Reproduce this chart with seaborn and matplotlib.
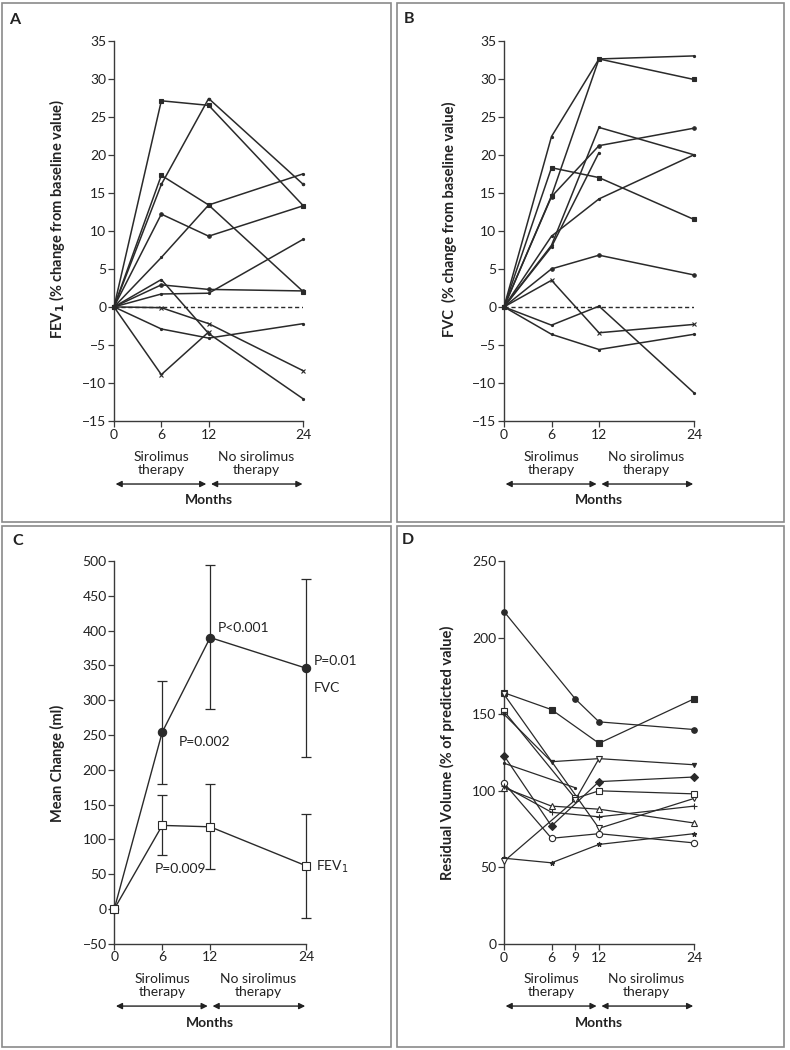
import numpy as np
import pandas as pd
import matplotlib
matplotlib.use("Agg")
import matplotlib.pyplot as plt
import matplotlib.transforms as mtrans
from matplotlib.patches import Rectangle
import seaborn as sns

sns.set_theme(style="ticks")
plt.rcParams['font.family'] = ['Lato', 'DejaVu Sans']

nan = np.nan
LC = '#2a2a2a'

# ---------------- Panel A: FEV1 % change ----------------
months_ab = [0, 6, 12, 24]
fev1_p1 = [0, 27.1, 26.5, 13.3]
fev1_p2 = [0, 16.1, 27.4, 16.1]
fev1_p3 = [0, 17.3, 13.4, 2.0]
fev1_p4 = [0, 6.5, 13.4, 17.5]
fev1_p5 = [0, 12.2, 9.3, 13.3]
fev1_p6 = [0, 2.9, 2.3, 2.1]
fev1_p7 = [0, 1.7, 1.8, 8.9]
fev1_p8 = [0, 3.6, -3.5, -12.1]
fev1_p9 = [0, -0.1, -2.2, -8.4]
fev1_p10 = [0, -2.9, -4.1, -2.2]
fev1_p11 = [0, -8.9, -3.3, nan]

# ---------------- Panel B: FVC % change ----------------
fvc_p1 = [0, 22.4, 32.6, 33.0]
fvc_p2 = [0, 14.6, 32.6, 29.9]
fvc_p3 = [0, 14.5, 21.2, 23.5]
fvc_p4 = [0, 18.3, 17.0, 11.5]
fvc_p5 = [0, 8.1, 23.6, 20.0]
fvc_p6 = [0, 7.9, 20.3, nan]
fvc_p7 = [0, 9.3, 14.2, 20.0]
fvc_p8 = [0, 5.0, 6.8, 4.2]
fvc_p9 = [0, 3.5, -3.4, -2.3]
fvc_p10 = [0, -2.4, 0.1, -11.3]
fvc_p11 = [0, -3.6, -5.6, -3.6]

# ---------------- Panel C: mean change (ml) ----------------
months_c = [0, 6, 12, 24]
fvc_mean = [0, 254, 390, 346]
fvc_lo = [nan, 180, 287, 218]
fvc_hi = [nan, 328, 494, 474]
fev1_mean = [0, 120, 118, 62]
fev1_lo = [nan, 77, 57, -13]
fev1_hi = [nan, 163, 179, 137]

# ---------------- Panel D: residual volume ----------------
months_d = [0, 6, 9, 12, 24]
rv_p1 = [217, nan, 160, 145, 140]
rv_p2 = [164, 153, nan, 131, 160]
rv_p3 = [163, nan, nan, 75.5, 95]
rv_p4 = [152, nan, 95, 100, 98]
rv_p5 = [150, 119, nan, 121, 117]
rv_p6 = [123, 77, nan, 106, 109]
rv_p7 = [118, nan, 102, nan, nan]
rv_p8 = [105, 69, nan, 72, 66]
rv_p9 = [102, 90, nan, 88, 79]
rv_p10 = [103, 86, nan, 83, 90]
rv_p11 = [56, 53, nan, 65, 72]
rv_p12 = [54, nan, 94, 121, nan]

W, H = 790, 1050
fig = plt.figure(figsize=(W / 100, H / 100), dpi=100)


def px_axes(left, right, top, bottom):
    return fig.add_axes([left / W, 1 - bottom / H, (right - left) / W, (bottom - top) / H])


def series(ax, x, y, marker, ms, mfc=LC, lw=1.1):
    df = pd.DataFrame({'x': x, 'y': y}).dropna()
    sns.lineplot(data=df, x='x', y='y', ax=ax, color=LC, lw=lw, marker=marker,
                 markersize=ms, markerfacecolor=mfc, markeredgecolor=LC,
                 markeredgewidth=0.8, clip_on=False, estimator=None, sort=False,
                 zorder=3)


def style(ax, ylim, yticks, xticks, ylabel, labx, laby=0.5):
    ax.set_xlim(0, 24)
    ax.set_ylim(*ylim)
    ax.set_yticks(yticks)
    ax.set_xticks(xticks)
    sns.despine(ax=ax)
    for s in ['left', 'bottom']:
        ax.spines[s].set_color('#3a3a3a')
        ax.spines[s].set_linewidth(1.0)
    ax.tick_params(direction='out', length=4, width=0.9, colors='#3a3a3a',
                   labelsize=10, labelcolor='#222222', pad=1.5)
    ax.set_xlabel('')
    ax.set_ylabel(ylabel, fontsize=10.5, fontweight='bold', color='#222222')
    ax.yaxis.set_label_coords(labx, laby)


def bottom_labels(ax, y_text, y_arrow, y_months):
    tr = mtrans.blended_transform_factory(ax.transData, ax.transAxes)
    ax.text(6, y_text, 'Sirolimus\ntherapy', transform=tr, ha='center', va='center',
            fontsize=10, linespacing=1.1, color='#222222')
    ax.text(18, y_text, 'No sirolimus\ntherapy', transform=tr, ha='center', va='center',
            fontsize=10, linespacing=1.1, color='#222222')
    for a, b in [(0.2, 11.7), (12.3, 23.9)]:
        ax.annotate('', xy=(b, y_arrow), xytext=(a, y_arrow),
                    xycoords=('data', 'axes fraction'), textcoords=('data', 'axes fraction'),
                    arrowprops=dict(arrowstyle='<|-|>', color='#222222', lw=1.0,
                                    mutation_scale=9, shrinkA=0, shrinkB=0),
                    annotation_clip=False)
    ax.text(12, y_months, 'Months', transform=tr, ha='center', va='center',
            fontsize=10, fontweight='bold', color='#222222')


# panel frames
for (x0, y0, x1, y1) in [(2, 3, 391, 522), (397, 3, 784, 522),
                         (2, 526, 391, 1047), (397, 526, 784, 1047)]:
    fig.patches.append(Rectangle((x0 / W, 1 - y1 / H), (x1 - x0) / W, (y1 - y0) / H,
                                 transform=fig.transFigure, fill=False,
                                 edgecolor='#8a8a8a', lw=1.2))

# ---------------- A ----------------
axA = px_axes(114, 303.3, 40.7, 421)
fev1_all = [fev1_p1, fev1_p2, fev1_p3, fev1_p4, fev1_p5, fev1_p6,
            fev1_p7, fev1_p8, fev1_p9, fev1_p10, fev1_p11]
mk_A = ['s', '.', 's', '.', 'o', 'o', '.', '.', 'x', '.', 'x']
ms_A = [3, 3.5, 3, 3, 2.5, 2.5, 3, 3, 3, 3, 3]
for ys, m, s in zip(fev1_all, mk_A, ms_A):
    series(axA, months_ab, ys, m, s)
axA.plot([0, 24], [0, 0], ls=(0, (3, 2)), color=LC, lw=1.0, zorder=2)
style(axA, (-15, 35), np.arange(-15, 36, 5), months_ab,
      'FEV$_\\mathbf{1}$ (% change from baseline value)', -0.25, 0.53)
bottom_labels(axA, -0.1126, -0.1657, -0.2077)

# ---------------- B ----------------
axB = px_axes(504, 694, 40.7, 421)
fvc_all = [fvc_p1, fvc_p2, fvc_p3, fvc_p4, fvc_p5, fvc_p6,
           fvc_p7, fvc_p8, fvc_p9, fvc_p10, fvc_p11]
mk_B = ['.', 's', 'o', 's', '.', '.', '.', 'o', 'x', '.', '.']
ms_B = [3, 3, 2.5, 3, 3, 3, 3, 2.5, 3, 3, 3]
for ys, m, s in zip(fvc_all, mk_B, ms_B):
    series(axB, months_ab, ys, m, s)
axB.plot([0, 24], [0, 0], ls=(0, (3, 2)), color=LC, lw=1.0, zorder=2)
style(axB, (-15, 35), np.arange(-15, 36, 5), months_ab,
      'FVC  (% change from baseline value)', -0.249, 0.53)
bottom_labels(axB, -0.1126, -0.1657, -0.2077)

# ---------------- C ----------------
axC = px_axes(114.3, 306, 561, 943.7)
mC = np.array(months_c, dtype=float)
for mean, lo, hi, mk, mfc in [(fvc_mean, fvc_lo, fvc_hi, 'o', LC),
                              (fev1_mean, fev1_lo, fev1_hi, 's', 'white')]:
    mean_a = np.array(mean, dtype=float)
    lo_a = np.array(lo, dtype=float)
    hi_a = np.array(hi, dtype=float)
    ok = ~np.isnan(lo_a)
    axC.errorbar(mC[ok], mean_a[ok], yerr=[mean_a[ok] - lo_a[ok], hi_a[ok] - mean_a[ok]],
                 fmt='none', ecolor=LC, elinewidth=0.9, capsize=3.5, capthick=0.9,
                 zorder=2, clip_on=False)
    series(axC, months_c, mean, mk, 6 if mk == 'o' else 5.5, mfc=mfc, lw=1.0)
style(axC, (-50, 500), np.arange(-50, 501, 50), months_c, 'Mean Change (ml)', -0.257, 0.47)
axC.text(12.95, 404, 'P<0.001', fontsize=10, ha='left', va='center', color='#222222')
axC.text(24.95, 357, 'P=0.01', fontsize=10, ha='left', va='center', color='#222222')
axC.text(24.95, 318, 'FVC', fontsize=10, ha='left', va='center', color='#222222')
axC.text(8.1, 240, 'P=0.002', fontsize=10, ha='left', va='center', color='#222222')
axC.text(5.1, 58, 'P=0.009', fontsize=10, ha='left', va='center', color='#222222')
axC.text(25.3, 61, 'FEV$_1$', fontsize=10, ha='left', va='center', color='#222222')
bottom_labels(axC, -0.110, -0.163, -0.206)

# ---------------- D ----------------
axD = px_axes(504, 694, 561, 944)
rv_all = [rv_p1, rv_p2, rv_p3, rv_p4, rv_p5, rv_p6, rv_p7, rv_p8, rv_p9,
          rv_p10, rv_p11, rv_p12]
mk_D = ['o', 's', 'v', 's', 'v', 'D', '.', 'o', '^', '+', '*', 'v']
mfc_D = [LC, LC, 'white', 'white', LC, LC, LC, 'white', 'white', LC, LC, 'white']
ms_D = [4, 4, 4.5, 4.5, 3, 4, 3, 4.5, 4, 4, 3.5, 4]
for ys, m, f, s in zip(rv_all, mk_D, mfc_D, ms_D):
    series(axD, months_d, ys, m, s, mfc=f, lw=0.9)
style(axD, (0, 250), np.arange(0, 251, 50), months_d,
      'Residual Volume (% of predicted value)', -0.258, 0.5)
bottom_labels(axD, -0.108, -0.162, -0.206)

# panel letters
for letter, x, y in [('A', 15, 20), ('B', 409, 19), ('C', 18, 541), ('D', 408, 540)]:
    fig.text(x / W, 1 - y / H, letter, fontsize=11.5, fontweight='bold',
             ha='center', va='center', color='#222222')

fig.savefig('out.png', dpi=100, facecolor='white')
